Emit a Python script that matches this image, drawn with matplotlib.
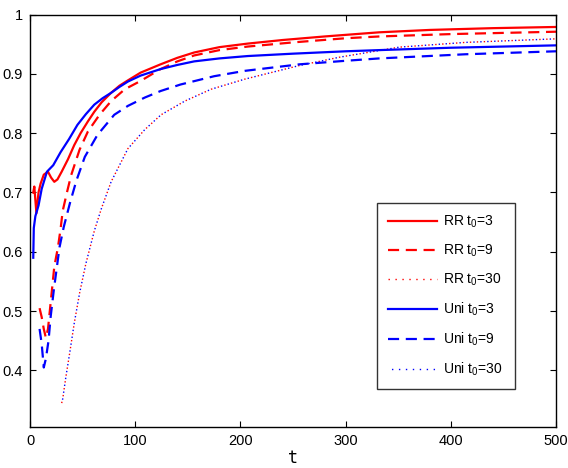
import matplotlib
matplotlib.use("Agg")
from matplotlib import pyplot as plt

plt.rcParams["font.family"] = ["Liberation Sans", "DejaVu Sans"]
plt.rcParams["mathtext.default"] = "regular"

# RR, t0 = 3
rr3_t = [3, 4, 6, 8, 10, 13, 17, 20, 23, 26, 30, 36, 42, 48, 55, 61, 68, 77, 85, 93,
         105, 124, 140, 156, 180, 207, 240, 280, 332, 380, 440, 500]
rr3_y = [0.70, 0.71, 0.665, 0.70, 0.715, 0.73, 0.735, 0.725, 0.718, 0.722, 0.735, 0.756,
         0.78, 0.80, 0.82, 0.836, 0.852, 0.868, 0.88, 0.889, 0.902, 0.916, 0.927, 0.936,
         0.945, 0.951, 0.957, 0.963, 0.970, 0.974, 0.977, 0.979]

# RR, t0 = 9
rr9_t = [9, 11, 13, 15, 17, 19, 21, 23, 26.5, 29, 31, 35, 39, 47, 55, 66, 77, 90, 105,
         124, 140, 156, 180, 207, 250, 300, 332, 400, 450, 500]
rr9_y = [0.505, 0.49, 0.47, 0.455, 0.47, 0.505, 0.54, 0.575, 0.608, 0.639, 0.669, 0.70,
         0.729, 0.772, 0.803, 0.831, 0.854, 0.874, 0.888, 0.908, 0.921, 0.931, 0.940,
         0.946, 0.953, 0.960, 0.963, 0.967, 0.969, 0.971]

# RR, t0 = 30
rr30_t = [30, 31, 34, 37.6, 42, 47, 53, 61, 67.6, 77, 93, 109, 124.5, 147, 172, 204,
          256, 294, 351, 414, 500]
rr30_y = [0.345, 0.352, 0.389, 0.429, 0.48, 0.53, 0.58, 0.635, 0.672, 0.718, 0.774,
          0.806, 0.831, 0.854, 0.874, 0.891, 0.914, 0.928, 0.945, 0.953, 0.959]

# Uni, t0 = 3
uni3_t = [3, 3.5, 5, 8, 11, 16, 22, 29, 37, 45, 53, 61, 69, 77, 85, 93, 105, 124, 140,
          156, 180, 207, 250, 300, 332, 400, 450, 500]
uni3_y = [0.59, 0.64, 0.66, 0.678, 0.706, 0.735, 0.746, 0.768, 0.79, 0.814, 0.832, 0.848,
          0.859, 0.868, 0.878, 0.887, 0.897, 0.908, 0.915, 0.921, 0.926, 0.930, 0.934,
          0.938, 0.940, 0.944, 0.946, 0.948]

# Uni, t0 = 9
uni9_t = [9, 11, 13, 15, 17.5, 19.5, 22.5, 25.5, 28, 32, 38, 44, 52, 64, 80, 93, 109,
          124, 143, 175, 204, 256, 300, 332, 414, 500]
uni9_y = [0.47, 0.445, 0.405, 0.42, 0.45, 0.49, 0.535, 0.575, 0.608, 0.642, 0.683, 0.72,
          0.76, 0.797, 0.831, 0.846, 0.86, 0.871, 0.882, 0.896, 0.905, 0.916, 0.922,
          0.926, 0.933, 0.938]

# Uni, t0 = 30 (lies on top of the RR t0=30 curve)
uni30_t = [30, 31, 34, 37.6, 42, 47, 53, 61, 67.6, 77, 93, 109, 124.5, 147, 172, 204,
           256, 294, 351, 414, 500]
uni30_y = [0.345, 0.352, 0.389, 0.429, 0.48, 0.53, 0.58, 0.635, 0.672, 0.718, 0.774,
           0.806, 0.831, 0.854, 0.874, 0.891, 0.914, 0.928, 0.945, 0.953, 0.959]

x_ticks = [0, 100, 200, 300, 400, 500]
y_ticks = [0.4, 0.5, 0.6, 0.7, 0.8, 0.9, 1.0]
y_tick_labels = ["0.4", "0.5", "0.6", "0.7", "0.8", "0.9", "1"]

fig = plt.figure(figsize=(5.68, 4.68), dpi=100)
ax = fig.add_axes([0.053, 0.088, 0.926, 0.881])

lw = 1.6
ax.plot(rr3_t, rr3_y, color="red", lw=lw, label="RR t$_0$=3")
ax.plot(rr9_t, rr9_y, color="red", lw=lw, dashes=(5, 3), label="RR t$_0$=9")
ax.plot(rr30_t, rr30_y, color="red", lw=1.0, linestyle=(0, (1, 4)), label="RR t$_0$=30")
ax.plot(uni3_t, uni3_y, color="blue", lw=lw, label="Uni t$_0$=3")
ax.plot(uni9_t, uni9_y, color="blue", lw=lw, dashes=(5, 3), label="Uni t$_0$=9")
# offset the dots so the two overlapping dotted curves interleave
ax.plot(uni30_t, uni30_y, color="blue", lw=1.0, linestyle=(2.5, (1, 4)), label="Uni t$_0$=30")

ax.set_xlim(0, 500)
ax.set_ylim(0.305, 1.0)
ax.set_xticks(x_ticks)
ax.set_yticks(y_ticks)
ax.set_yticklabels(y_tick_labels)
ax.tick_params(direction="in", top=True, right=True, length=4, width=0.8,
               labelsize=10.5, pad=5)
for s in ax.spines.values():
    s.set_linewidth(1.0)

ax.set_xlabel("t", family="DejaVu Sans Mono", fontsize=12, labelpad=1)

leg = ax.legend(loc="lower left", bbox_to_anchor=(0.66, 0.092, 0.262, 0.446),
                mode="expand", fontsize=10, handlelength=3.5, labelspacing=0.9,
                handletextpad=0.4, borderaxespad=0, fancybox=False, borderpad=0.8)
leg.get_frame().set_edgecolor("black")
leg.get_frame().set_linewidth(1.0)

fig.savefig("out.png", dpi=100)
